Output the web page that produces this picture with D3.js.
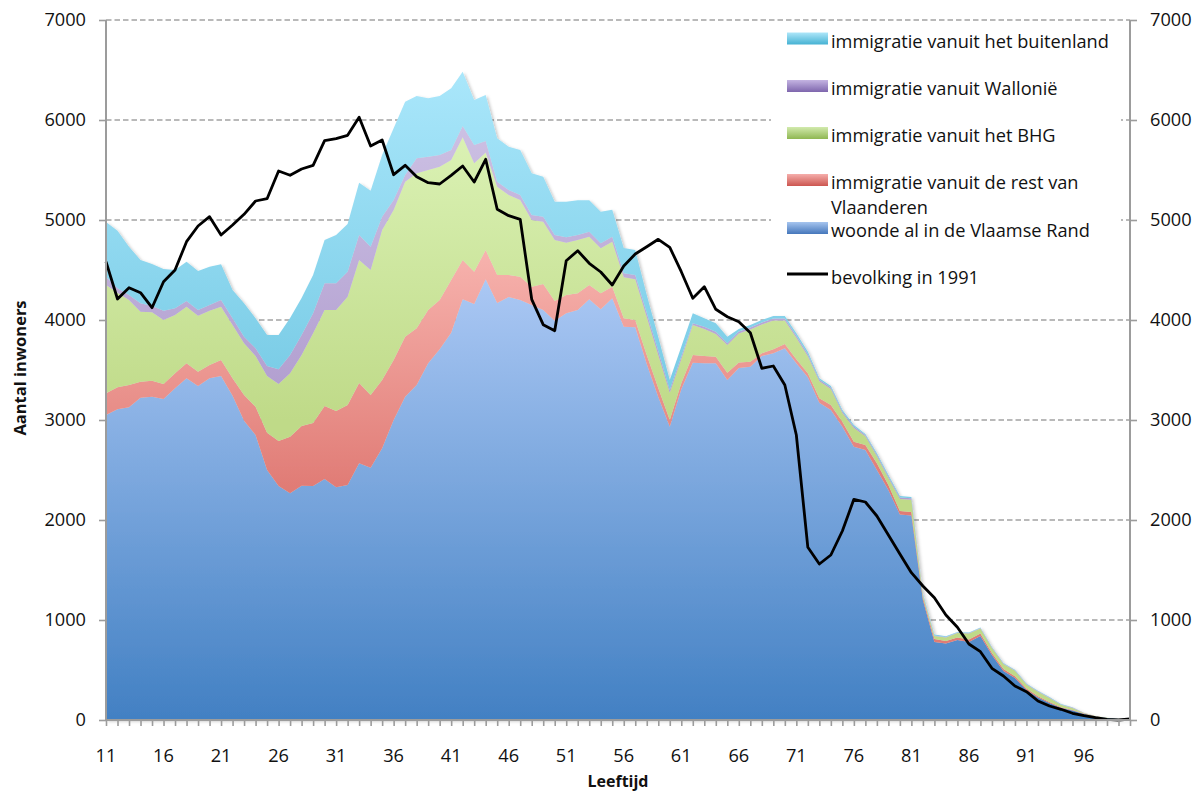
<!DOCTYPE html>
<html>
<head>
<meta charset="utf-8">
<script src="https://cdn.jsdelivr.net/npm/d3@7"></script>
<style>
  html, body { margin: 0; padding: 0; background: #fff; }
  svg { display: block; }
  text { font-family: "Open Sans", sans-serif; fill: #111; }
</style>
</head>
<body>
<svg id="chart" width="1202" height="792"></svg>
<script>
// ---------------- DATA ----------------
const ages = [11,12,13,14,15,16,17,18,19,20,21,22,23,24,25,26,27,28,29,30,
  31,32,33,34,35,36,37,38,39,40,41,42,43,44,45,46,47,48,49,50,
  51,52,53,54,55,56,57,58,59,60,61,62,63,64,65,66,67,68,69,70,
  71,72,73,74,75,76,77,78,79,80,81,82,83,84,85,86,87,88,89,90,
  91,92,93,94,95,96,97,98,99,100];

const woondeAl = [3050,3107,3127,3223,3233,3210,3317,3417,3340,3417,
  3440,3243,2993,2850,2500,2340,2267,2343,2340,2410,
  2327,2350,2567,2523,2717,3000,3233,3350,3567,3707,
  3873,4207,4160,4407,4170,4230,4200,4150,4100,3993,
  4067,4100,4207,4107,4217,3933,3927,3560,3230,2933,
  3307,3573,3567,3567,3400,3520,3533,3640,3667,3717,
  3567,3427,3173,3100,2933,2733,2700,2500,2300,2055,
  2045,1200,780,765,800,780,840,650,490,420,
  300,225,170,120,95,60,35,20,10,8];

const restVlaanderen = [217,220,223,160,160,150,150,150,143,133,
  160,174,257,283,373,450,566,597,630,730,
  763,800,803,727,683,600,600,567,533,493,
  527,393,323,293,280,220,233,183,260,197,
  183,167,143,160,116,84,73,90,90,67,
  60,77,73,66,73,55,50,27,40,43,
  40,40,44,50,50,50,50,67,50,35,
  35,25,30,25,25,25,25,20,20,18,
  15,12,10,8,6,4,2,1,0,1];

const bhg = [1083,946,850,700,684,640,583,566,560,543,
  533,533,517,507,567,570,634,710,897,960,
  1010,1083,1230,1250,1500,1500,1550,1550,1400,1333,
  1200,1227,1084,975,883,800,767,667,623,610,
  523,533,483,450,450,410,407,380,330,273,
  240,300,270,227,277,290,322,288,288,235,
  215,171,170,160,87,137,87,70,70,120,
  123,25,30,35,45,60,50,50,50,55,
  40,45,40,25,20,7,3,2,0,1];

const wallonie = [83,44,50,84,63,93,67,57,57,57,
  67,67,66,77,100,147,183,200,200,267,
  267,250,250,233,133,100,67,150,133,117,
  100,113,183,115,50,50,50,50,50,50,
  54,50,50,50,50,40,43,40,40,27,
  26,17,23,23,17,20,20,20,20,20,
  20,20,15,15,15,15,12,15,15,15,
  15,8,5,5,5,5,5,5,5,5,
  5,5,5,3,3,1,0,0,0,0];

const buitenland = [547,576,483,433,420,417,383,393,390,383,
  357,283,334,300,310,343,370,370,383,433,
  483,477,523,560,617,717,733,623,584,590,
  617,543,450,460,434,433,450,417,400,333,
  356,347,314,316,270,253,250,180,140,100,
  100,100,84,84,66,25,25,25,25,25,
  25,25,15,15,15,15,12,15,15,15,
  13,10,10,8,5,5,5,5,5,5,
  5,5,5,3,3,1,0,0,0,0];

const bevolking1991 = [4583,4210,4323,4273,4123,4383,4500,4783,4940,5033,
  4850,4950,5057,5190,5213,5490,5447,5510,5547,5793,
  5813,5847,6027,5740,5800,5453,5547,5433,5373,5360,
  5447,5540,5380,5607,5107,5043,5007,4207,3953,3893,
  4593,4693,4567,4480,4350,4540,4660,4733,4807,4727,
  4483,4217,4333,4107,4033,3983,3873,3517,3540,3350,
  2850,1727,1560,1650,1890,2207,2180,2040,1850,1660,
  1473,1340,1223,1050,927,760,683,517,440,340,
  283,190,140,107,67,43,23,7,0,10];

const yTicks = [0,1000,2000,3000,4000,5000,6000,7000];
const xTickLabels = [11,16,21,26,31,36,41,46,51,56,61,66,71,76,81,86,91,96];

const seriesKeys = ["woonde","rest","bhg","wallonie","buitenland"];
const seriesNames = {
  buitenland: "immigratie vanuit het buitenland",
  wallonie: "immigratie vanuit Wallonië",
  bhg: "immigratie vanuit het BHG",
  rest: "immigratie vanuit de rest van|Vlaanderen",
  woonde: "woonde al in de Vlaamse Rand"
};
const lineName = "bevolking in 1991";

// ---------------- CHART ----------------
const svg = d3.select("#chart");
const L = 106, R = 1130, T = 20, B = 720;
const FS = 18.2;

const x = d3.scaleLinear().domain([11, 100]).range([L, R]);
const y = d3.scaleLinear().domain([0, 7000]).range([B, T]);

const rows = ages.map((a, i) => ({
  age: a,
  woonde: woondeAl[i],
  rest: restVlaanderen[i],
  bhg: bhg[i],
  wallonie: wallonie[i],
  buitenland: buitenland[i]
}));
const stacked = d3.stack().keys(seriesKeys)(rows);

// gradients
const defs = svg.append("defs");
const areaGrad = {
  woonde: [y(4400), "#abc8f4", B, "#4280c3"],
  rest: [y(4700), "#f7b3ae", y(2300), "#e07b75"],
  bhg: [y(5900), "#dbf2b5", y(3000), "#bfda88"],
  wallonie: [y(6000), "#cdc1e4", y(3200), "#b19ecf"],
  buitenland: [y(6500), "#aae7fb", y(3400), "#7acce6"]
};
Object.entries(areaGrad).forEach(([k, g]) => {
  const lg = defs.append("linearGradient").attr("id", "ag-" + k)
    .attr("gradientUnits", "userSpaceOnUse")
    .attr("x1", 0).attr("x2", 0).attr("y1", g[0]).attr("y2", g[2]);
  lg.append("stop").attr("offset", 0).attr("stop-color", g[1]);
  lg.append("stop").attr("offset", 1).attr("stop-color", g[3]);
});
const swatchGrad = {
  buitenland: ["#aee6f9", "#45b2d3"],
  wallonie: ["#c4b4e2", "#7e66ad"],
  bhg: ["#d2eaad", "#8fb752"],
  rest: ["#f5aeab", "#cc5650"],
  woonde: ["#a6c5ef", "#4577bb"]
};
Object.entries(swatchGrad).forEach(([k, g]) => {
  const lg = defs.append("linearGradient").attr("id", "sg-" + k)
    .attr("x1", 0).attr("x2", 0).attr("y1", 0).attr("y2", 1);
  lg.append("stop").attr("offset", 0).attr("stop-color", g[0]);
  lg.append("stop").attr("offset", 1).attr("stop-color", g[1]);
});
const shadow = defs.append("filter").attr("id", "shadow")
  .attr("x", "-5%").attr("y", "-5%").attr("width", "110%").attr("height", "110%");
shadow.append("feDropShadow").attr("dx", 2).attr("dy", 1.5)
  .attr("stdDeviation", 1.8).attr("flood-color", "#000").attr("flood-opacity", 0.22);

// gridlines
svg.append("g").selectAll("line").data(yTicks.filter(v => v > 0)).join("line")
  .attr("x1", L).attr("x2", R)
  .attr("y1", d => y(d)).attr("y2", d => y(d))
  .attr("stroke", "#a3a3a3").attr("stroke-width", 1.3)
  .attr("stroke-dasharray", "5.5,3");

// areas
const area = d3.area()
  .x((d, i) => x(ages[i]))
  .y0(d => y(d[0])).y1(d => y(d[1]));
svg.append("g").attr("filter", "url(#shadow)")
  .selectAll("path").data(stacked).join("path")
  .attr("d", area)
  .attr("fill", d => "url(#ag-" + d.key + ")");

// line
const line = d3.line().x((d, i) => x(ages[i])).y(d => y(d));
svg.append("path").datum(bevolking1991)
  .attr("d", line).attr("fill", "none")
  .attr("stroke", "#000").attr("stroke-width", 2.8)
  .attr("stroke-linejoin", "round");

// axes
const axisColor = "#9c9c9c";
const yAxisL = svg.append("g").attr("transform", `translate(${L},0)`)
  .call(d3.axisLeft(y).tickValues(yTicks).tickSize(7).tickPadding(13).tickFormat(d3.format("d")));
const yAxisR = svg.append("g").attr("transform", `translate(${R},0)`)
  .call(d3.axisRight(y).tickValues(yTicks).tickSize(7).tickPadding(13).tickFormat(d3.format("d")));
const xAxis = svg.append("g").attr("transform", `translate(0,${B})`)
  .call(d3.axisBottom(x).tickValues(ages).tickSize(6).tickFormat(""));
svg.append("g").selectAll("text").data(xTickLabels).join("text")
  .attr("x", d => x(d)).attr("y", 755)
  .attr("text-anchor", "middle").attr("dominant-baseline", "central")
  .attr("font-size", FS).text(d => d);

[yAxisL, yAxisR, xAxis].forEach(g => {
  g.select(".domain").attr("stroke", axisColor).attr("stroke-width", 2);
  g.selectAll(".tick line").attr("stroke", axisColor).attr("stroke-width", 1.6);
  g.selectAll(".tick text").attr("font-size", FS).attr("fill", "#111")
    .attr("font-family", "'Open Sans', sans-serif");
});
xAxis.select(".domain").attr("d", `M${L},0H${R}`);
yAxisL.select(".domain").attr("d", `M0,${T}V${B}`);
yAxisR.select(".domain").attr("d", `M0,${T}V${B}`);

// axis titles
svg.append("text").attr("x", 618).attr("y", 781)
  .attr("text-anchor", "middle").attr("dominant-baseline", "central")
  .attr("font-weight", "bold").attr("font-size", 16).text("Leeftijd");
svg.append("text").attr("transform", "translate(19,368) rotate(-90)")
  .attr("text-anchor", "middle").attr("dominant-baseline", "central")
  .attr("font-weight", "bold").attr("font-size", 16.5).text("Aantal inwoners");

// legend
const lg = svg.append("g");
lg.append("rect").attr("x", 771).attr("y", 25).attr("width", 350).attr("height", 274)
  .attr("fill", "#fff");
const legendItems = [
  { key: "buitenland", cy: 38.5 },
  { key: "wallonie", cy: 86 },
  { key: "bhg", cy: 133 },
  { key: "rest", cy: 180 },
  { key: "woonde", cy: 228 }
];
legendItems.forEach(it => {
  lg.append("rect").attr("x", 787).attr("y", it.cy - 6).attr("width", 41).attr("height", 12)
    .attr("fill", `url(#sg-${it.key})`);
  const lines = seriesNames[it.key].split("|");
  lines.forEach((t, j) => {
    lg.append("text").attr("x", 831).attr("y", it.cy + 2 + j * 25)
      .attr("dominant-baseline", "central").attr("font-size", FS).text(t);
  });
});
lg.append("line").attr("x1", 787).attr("x2", 828).attr("y1", 274).attr("y2", 274)
  .attr("stroke", "#000").attr("stroke-width", 2.8);
lg.append("text").attr("x", 831).attr("y", 277).attr("dominant-baseline", "central")
  .attr("font-size", FS).text(lineName);
</script>
</body>
</html>
